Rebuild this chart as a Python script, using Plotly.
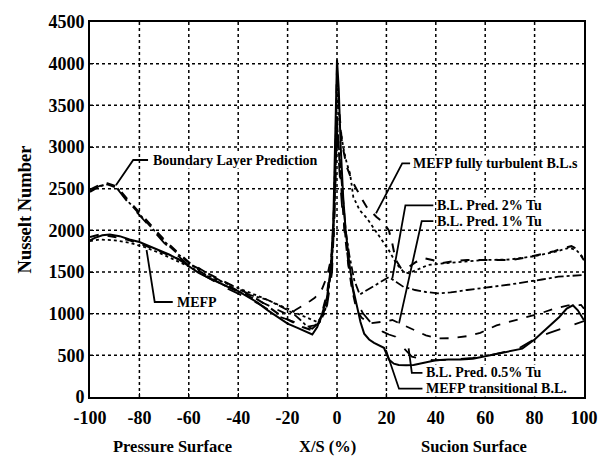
import plotly.graph_objects as go

# ---------------- data ----------------
x_ticks = [-100, -80, -60, -40, -20, 0, 20, 40, 60, 80, 100]
x_tick_labels = ["-100", "-80", "-60", "-40", "-20", "0", "20", "40", "60", "80", "100"]
y_ticks = [0, 500, 1000, 1500, 2000, 2500, 3000, 3500, 4000, 4500]
y_tick_labels = [str(v) for v in y_ticks]

# MEFP (pressure side) + MEFP transitional B.L. (suction side) - solid
mefp_x = [-100, -98, -95, -92, -88, -84, -80, -76, -72, -68, -64, -60, -56, -52, -48, -44,
          -40, -36, -32, -28, -24, -20, -16, -12, -10, -8, -6, -4, -2.5, -1.5, -0.5, 0,
          0.7, 1.5, 2.5, 3.5, 5, 6.5, 8, 9.5, 11, 13, 15, 17, 19, 21, 23, 25, 28, 31, 35,
          40, 45, 50, 55, 60, 65, 70, 75, 80, 85, 90, 93, 95.5, 97.5, 100]
mefp_y = [1880, 1910, 1940, 1950, 1930, 1890, 1860, 1810, 1760, 1710, 1650, 1570, 1490, 1430,
          1370, 1320, 1270, 1200, 1130, 1040, 960, 880, 830, 780, 750, 840, 1000, 1200, 1550,
          2100, 3200, 4050, 3700, 3000, 2400, 2000, 1600, 1300, 1100, 900, 760, 690, 650, 620,
          590, 450, 400, 385, 380, 385, 410, 440, 450, 450, 460, 490, 520, 545, 580, 690, 820,
          960, 1060, 1100, 1040, 920]

# MEFP fully turbulent B.L.s - dashed
turb_x = [-100, -96, -90, -84, -78, -72, -66, -60, -54, -48, -42, -36, -30, -26, -22, -18,
          -14, -10, -7, -4, -2, -0.8, 0, 1, 2, 3, 4, 6, 8, 10, 12, 14.5, 16, 18.5, 21, 22.4,
          23.7, 26, 29, 32, 35.6, 39, 42, 47, 52.7, 60, 66, 71, 76, 81.7, 88, 92, 94.9, 97,
          98.8, 100]
turb_y = [1920, 1950, 1920, 1880, 1820, 1750, 1680, 1600, 1510, 1420, 1330, 1240, 1130, 1040,
          960, 900, 840, 800, 900, 1250, 1700, 2600, 3950, 3400, 3050, 2900, 2760, 2600, 2480,
          2380, 2280, 2200, 2160, 2100, 2000, 1840, 1650, 1540, 1560, 1620, 1664, 1640, 1604,
          1630, 1644, 1644, 1640, 1645, 1670, 1704, 1750, 1790, 1810, 1780, 1690, 1640]

# additional dotted curve running close to the fully turbulent one
dot_x = [-100, -96, -90, -84, -78, -72, -66, -60, -54, -48, -42, -36, -30, -24, -20, -16,
         -12, -8, -5, -3, -1.5, -0.5, 0, 1, 2.5, 4, 5.3, 6.6, 9.2, 12, 15, 18, 21, 24, 27,
         29, 33, 36.9, 42, 50, 59, 70, 80, 88, 94, 97, 100]
dot_y = [1870, 1890, 1880, 1850, 1800, 1730, 1650, 1560, 1480, 1400, 1330, 1260, 1190, 1110,
         1060, 1000, 950, 900, 1000, 1400, 2000, 3000, 3700, 3300, 3000, 2800, 2680, 2400,
         2240, 2150, 2020, 1900, 1760, 1600, 1500, 1484, 1530, 1584, 1600, 1620, 1644, 1650,
         1690, 1740, 1790, 1760, 1660]

# B.L. Pred. 2% Tu - dash-dot
tu2_x = [-100, -96, -93, -89, -85, -80, -75, -70, -65, -60, -55, -50, -45, -40, -34, -28,
         -23, -18, -15, -12, -9, -6, -4, -2, -1, 0, 1, 2, 3.5, 5, 7, 9.2, 12, 15, 18, 21,
         24, 27, 31.6, 36, 40.9, 46, 52.7, 58, 63.2, 70, 76.4, 83, 89.6, 95, 100]
tu2_y = [2460, 2530, 2550, 2510, 2360, 2190, 2030, 1870, 1730, 1610, 1500, 1410, 1330, 1264,
         1210, 1164, 1090, 1008, 930, 844, 860, 950, 1150, 1600, 2300, 3300, 2900, 2500, 2000,
         1700, 1400, 1230, 1280, 1330, 1390, 1440, 1380, 1320, 1284, 1260, 1244, 1255, 1284,
         1300, 1324, 1350, 1384, 1410, 1444, 1455, 1464]

# B.L. Pred. 1% Tu - dashed
tu1_x = [-100, -96, -93, -89, -85, -80, -75, -70, -65, -60, -55, -50, -45, -40, -35, -30,
         -26, -23, -20, -17, -14, -11, -9, -6, -4, -2.5, -1.3, -0.5, 0, 1, 2, 3, 4.5, 6, 7.9,
         10, 13.2, 16, 19, 22.4, 25, 28, 31.6, 36, 40.9, 46, 52.7, 58, 64.6, 70, 77.7, 83,
         88.3, 93.6, 98.8, 100]
tu1_y = [2490, 2550, 2565, 2525, 2380, 2220, 2050, 1890, 1750, 1620, 1530, 1440, 1350, 1270,
         1200, 1130, 1070, 1030, 990, 1040, 1090, 1150, 1190, 1300, 1450, 1650, 1900, 2700,
         3400, 2800, 2400, 2000, 1600, 1300, 1044, 950, 884, 890, 905, 924, 890, 850, 804,
         740, 704, 705, 730, 770, 860, 905, 964, 1010, 1064, 1100, 1104, 1060]

# B.L. Pred. 0.5% Tu - long dash
tu05_x = [-100, -96, -93, -89, -85, -80, -75, -70, -65, -60, -55, -50, -45, -40, -35, -30,
          -26, -23, -20, -16, -13, -10, -7, -4, -2, -1, 0, 1, 2, 3.5, 5, 7, 10.5, 14, 18.5,
          21, 23.7, 26.4, 30.3, 35, 40, 47, 55, 62, 68, 74, 78, 81.7, 86, 90, 95, 98.8, 100]
tu05_y = [2470, 2535, 2550, 2500, 2350, 2180, 2010, 1850, 1710, 1580, 1480, 1390, 1310, 1240,
          1170, 1090, 1010, 960, 930, 880, 850, 820, 900, 1100, 1500, 2200, 3200, 2700, 2300,
          1900, 1500, 1200, 1004, 880, 784, 750, 724, 604, 484, 450, 440, 450, 470, 500, 540,
          590, 660, 724, 770, 810, 860, 904, 910]

# curve labels
label_texts = ["Boundary Layer Prediction", "MEFP", "MEFP fully turbulent B.L.s",
               "B.L. Pred. 2% Tu", "B.L. Pred. 1% Tu", "B.L. Pred. 0.5% Tu",
               "MEFP transitional B.L."]
label_x = [-75.0, -65.0, 30.3, 40.2, 40.2, 35.6, 35.6]
label_y = [2844, 1140, 2804, 2300, 2110, 290, 100]
# leader lines (label end -> elbow -> curve point)
leaders = [
    [(-76.5, 2844), (-82.5, 2844), (-89.5, 2540)],
    [(-66.5, 1140), (-73.8, 1140), (-77.1, 1764)],
    [(29.6, 2804), (26.4, 2804), (15.8, 2204)],
    [(39.0, 2300), (27.7, 2300), (22.4, 1424)],
    [(39.0, 2110), (34.3, 2110), (25.1, 884)],
    [(34.6, 290), (30.3, 290), (29.0, 584)],
    [(34.6, 100), (25.1, 100), (19.8, 564)],
]

bottom_texts = ["Pressure Surface", "X/S (%)", "Sucion Surface"]
bottom_x = [0.168, 0.48, 0.777]

# ---------------- figure ----------------
FONT = "Liberation Serif"
fig = go.Figure()

# dotted grid: one line trace per tick value
for gx in x_ticks[1:-1]:
    fig.add_trace(go.Scatter(x=[gx, gx], y=[y_ticks[0], y_ticks[-1]], mode="lines",
                             hoverinfo="skip", showlegend=False,
                             line=dict(color="black", width=1.5, dash="dot")))
for gy in y_ticks[1:-1]:
    fig.add_trace(go.Scatter(x=[x_ticks[0], x_ticks[-1]], y=[gy, gy], mode="lines",
                             hoverinfo="skip", showlegend=False,
                             line=dict(color="black", width=1.5, dash="dot")))

series = [
    (mefp_x, mefp_y, "solid", 2.0, "MEFP"),
    (turb_x, turb_y, "dash", 2.0, "MEFP fully turbulent B.L.s"),
    (dot_x, dot_y, "dot", 1.8, "dotted"),
    (tu2_x, tu2_y, "dashdot", 1.8, "B.L. Pred. 2% Tu"),
    (tu1_x, tu1_y, "dash", 1.8, "B.L. Pred. 1% Tu"),
    (tu05_x, tu05_y, "longdash", 1.8, "B.L. Pred. 0.5% Tu"),
]
for xs, ys, dash, w, name in series:
    fig.add_trace(go.Scatter(x=xs, y=ys, mode="lines", name=name,
                             line=dict(color="black", width=w, dash=dash),
                             showlegend=False))

shapes = []
for pts in leaders:
    path = "M {} {}".format(pts[0][0], pts[0][1])
    for px_, py_ in pts[1:]:
        path += " L {} {}".format(px_, py_)
    shapes.append(dict(type="path", path=path, xref="x", yref="y",
                       line=dict(color="black", width=1.8)))

annotations = []
for t, lx, ly in zip(label_texts, label_x, label_y):
    annotations.append(dict(x=lx, y=ly, xref="x", yref="y", text="<b>%s</b>" % t,
                            showarrow=False, xanchor="left", yanchor="middle",
                            font=dict(family=FONT, size=14, color="black"),
                            bgcolor="white", borderpad=0))
for t, bx in zip(bottom_texts, bottom_x):
    annotations.append(dict(x=bx, y=-0.133, xref="paper", yref="paper",
                            text="<b>%s</b>" % t,
                            showarrow=False, xanchor="center", yanchor="middle",
                            font=dict(family=FONT, size=16.5, color="black")))

fig.update_layout(
    width=610, height=460,
    margin=dict(l=90, r=14, t=22, b=63),
    paper_bgcolor="white", plot_bgcolor="white",
    font=dict(family=FONT, color="black"),
    shapes=shapes, annotations=annotations,
    xaxis=dict(range=[-100, 100], tickvals=x_ticks,
               ticktext=["<b>%s</b>" % t for t in x_tick_labels],
               showgrid=False, ticklabelstandoff=3,
               showline=True, mirror=True, linecolor="black", linewidth=2,
               ticks="inside", ticklen=4, tickcolor="black", zeroline=False,
               tickfont=dict(family=FONT, size=18, color="black")),
    yaxis=dict(range=[0, 4500], tickvals=y_ticks,
               ticktext=["<b>%s</b>" % t for t in y_tick_labels],
               showgrid=False,
               showline=True, mirror=True, linecolor="black", linewidth=2,
               ticks="inside", ticklen=4, tickcolor="black", zeroline=False,
               tickfont=dict(family=FONT, size=18, color="black"),
               title=dict(text="<b>Nusselt Number</b>", standoff=12,
                          font=dict(family=FONT, size=18.5, color="black"))),
)

fig.write_html("out.html")
